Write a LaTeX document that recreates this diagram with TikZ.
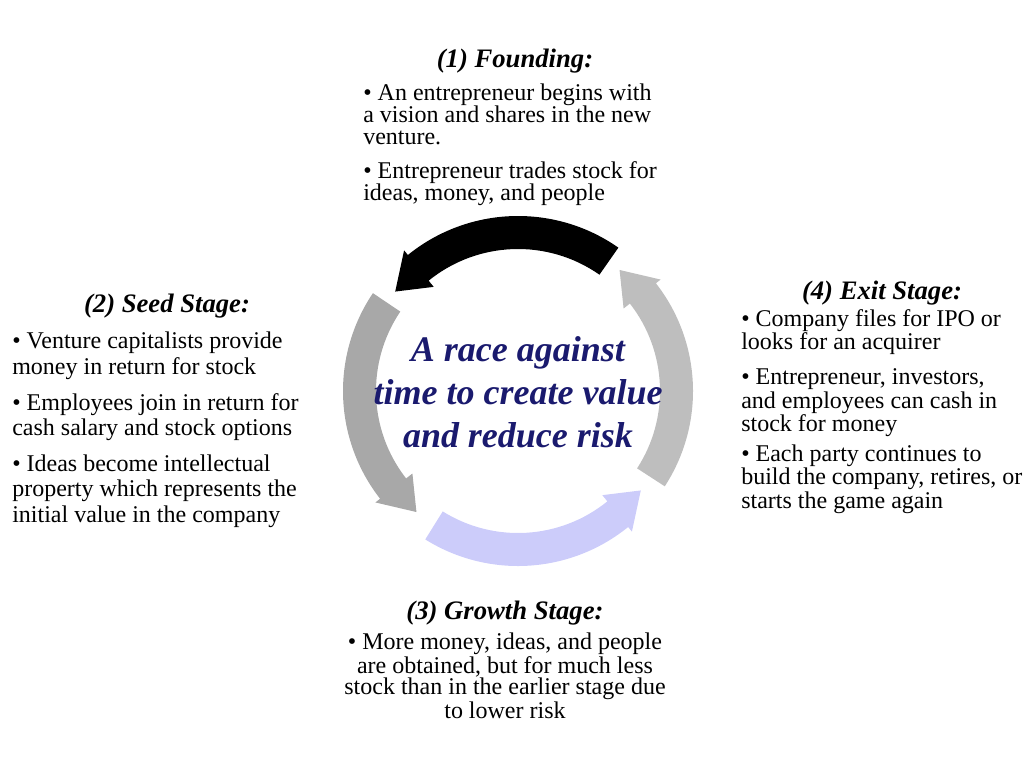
\documentclass[tikz,border=0pt]{standalone}
\usepackage{fontspec}
\setmainfont{Liberation Serif}
\definecolor{racenavy}{RGB}{26,26,110}
\definecolor{seedgray}{RGB}{168,168,168}
\definecolor{exitgray}{RGB}{190,190,190}
\definecolor{growthblue}{RGB}{204,204,250}

% curved arrow: tail angle, tip angle, colour
\newcommand{\stagearrow}[3]{%
  \fill[#3] (#1:175) arc[start angle=#1,end angle=#2-12,radius=175]
    -- ({#2-12}:181) -- (#2:158) -- ({#2-12}:134) -- ({#2-12}:142)
    arc[start angle=#2-12,end angle=#1,radius=142] -- cycle;}

\begin{document}
\begin{tikzpicture}[x=0.75pt,y=-0.75pt,
  stagetitle/.style={font=\fontsize{20}{24}\selectfont\bfseries\itshape,inner sep=0pt,anchor=base},
  stagetext/.style={font=\fontsize{18}{#1}\selectfont,align=left,inner sep=0pt,anchor=base west}]
\useasboundingbox (0,0) rectangle (1034,757);

\begin{scope}[shift={(518,391)},y=0.75pt]
\stagearrow{55}{141}{black}
\stagearrow{146}{230}{seedgray}
\stagearrow{238}{321}{growthblue}
\stagearrow{327}{410}{exitgray}
\end{scope}

% base anchors sit on the last line
\node[font=\fontsize{27}{32}\selectfont\bfseries\itshape,text=racenavy,align=center,inner sep=0pt,anchor=base] (race) at (518,447)
  {A race against\\time to create value\\and reduce risk};

\node[stagetitle] (foundtitle) at (515,67) {(1) Founding:};
\node[stagetext=16.5] (foundtext) at (363,200)
  {\textbullet{} An entrepreneur begins with\\a vision and shares in the new\\venture.\\[9pt]\textbullet{} Entrepreneur trades stock for\\ideas, money, and people};

\node[stagetitle] (seedtitle) at (167,312) {(2) Seed Stage:};
\node[stagetext=19] (seedtext) at (12,522)
  {\textbullet{} Venture capitalists provide\\money in return for stock\\[8pt]\textbullet{} Employees join in return for\\cash salary and stock options\\[8pt]\textbullet{} Ideas become intellectual\\property which represents the\\initial value in the company};

\node[stagetitle] (growthtitle) at (505,619) {(3) Growth Stage:};
\node[stagetext=16.3,align=center,anchor=base] (growthtext) at (505,718)
  {\textbullet{} More money, ideas, and people\\are obtained, but for much less\\stock than in the earlier stage due\\to lower risk};

\node[stagetitle] (exittitle) at (882,299) {(4) Exit Stage:};
\node[stagetext=17.5] (exittext) at (741,508)
  {\textbullet{} Company files for IPO or\\looks for an acquirer\\[9pt]\textbullet{} Entrepreneur, investors,\\and employees can cash in\\stock for money\\[5pt]\textbullet{} Each party continues to\\build the company, retires, or\\starts the game again};
\end{tikzpicture}
\end{document}
